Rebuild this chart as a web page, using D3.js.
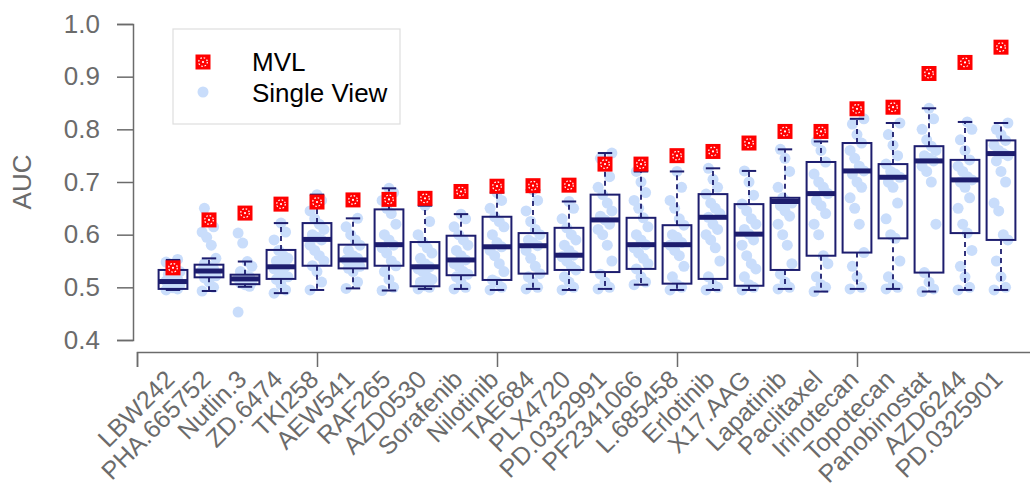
<!doctype html>
<html lang="en">
<head>
    <meta charset="UTF-8">
    <title>AUC by drug</title>
    <style>
        body { margin: 0; background: #fff; }
        text { font-family: "Liberation Sans", Arial, sans-serif; }
    </style>
</head>
<body>
    <svg width="1030" height="489"></svg>
    <script src="https://cdn.jsdelivr.net/npm/d3@7/dist/d3.min.js"></script>
    <script>
        const drugs = ["LBW242", "PHA.665752", "Nutlin.3", "ZD.6474", "TKI258", "AEW541", "RAF265", "AZD0530",
            "Sorafenib", "Nilotinib", "TAE684", "PLX4720", "PD.0332991", "PF2341066", "L.685458", "Erlotinib",
            "X17.AAG", "Lapatinib", "Paclitaxel", "Irinotecan", "Topotecan", "Panobinostat", "AZD6244", "PD.0325901"];

        const mvl = [0.537, 0.628, 0.641, 0.658, 0.662, 0.666, 0.667, 0.669, 0.682, 0.692, 0.693, 0.694,
            0.734, 0.734, 0.750, 0.758, 0.774, 0.796, 0.796, 0.839, 0.842, 0.906, 0.927, 0.956];

        // box stats: whisker low, lower quartile, median, upper quartile, whisker high
        const whiskerLo = [0.495, 0.493, 0.501, 0.489, 0.495, 0.498, 0.494, 0.497, 0.497, 0.495, 0.497, 0.495,
            0.497, 0.505, 0.495, 0.495, 0.495, 0.497, 0.492, 0.497, 0.497, 0.492, 0.495, 0.495];
        const q1 = [0.497, 0.519, 0.506, 0.516, 0.541, 0.536, 0.541, 0.502, 0.523, 0.514, 0.526, 0.533,
            0.529, 0.535, 0.507, 0.516, 0.503, 0.533, 0.560, 0.566, 0.593, 0.528, 0.603, 0.590];
        const median = [0.511, 0.531, 0.516, 0.539, 0.591, 0.552, 0.581, 0.539, 0.552, 0.577, 0.579, 0.561,
            0.628, 0.581, 0.581, 0.633, 0.601, 0.663, 0.678, 0.721, 0.709, 0.740, 0.704, 0.754];
        const q3 = [0.533, 0.543, 0.524, 0.571, 0.622, 0.581, 0.648, 0.586, 0.598, 0.634, 0.603, 0.613,
            0.676, 0.632, 0.618, 0.677, 0.658, 0.670, 0.738, 0.774, 0.734, 0.768, 0.742, 0.779];
        const whiskerHi = [0.552, 0.555, 0.549, 0.622, 0.676, 0.631, 0.688, 0.655, 0.639, 0.680, 0.685, 0.663,
            0.755, 0.720, 0.720, 0.726, 0.721, 0.762, 0.777, 0.820, 0.812, 0.840, 0.814, 0.812];

        // single view AUCs per drug
        const singleView = [
            [0.495, 0.497, 0.499, 0.502, 0.505, 0.508, 0.51, 0.512, 0.515, 0.52, 0.525, 0.53, 0.535, 0.54, 0.548, 0.553],
            [0.493, 0.5, 0.51, 0.518, 0.522, 0.527, 0.53, 0.532, 0.535, 0.54, 0.545, 0.555, 0.58, 0.595, 0.605, 0.615, 0.63, 0.65],
            [0.453, 0.502, 0.505, 0.508, 0.51, 0.513, 0.515, 0.517, 0.52, 0.523, 0.53, 0.54, 0.549, 0.584, 0.603],
            [0.489, 0.495, 0.505, 0.515, 0.52, 0.525, 0.53, 0.535, 0.54, 0.545, 0.55, 0.555, 0.56, 0.57, 0.59, 0.605, 0.622],
            [0.495, 0.51, 0.53, 0.541, 0.55, 0.56, 0.57, 0.58, 0.59, 0.595, 0.6, 0.61, 0.62, 0.63, 0.645, 0.665, 0.676],
            [0.498, 0.51, 0.53, 0.536, 0.54, 0.545, 0.55, 0.552, 0.555, 0.56, 0.57, 0.58, 0.59, 0.6, 0.615, 0.631],
            [0.494, 0.5, 0.515, 0.53, 0.541, 0.55, 0.565, 0.575, 0.58, 0.59, 0.6, 0.62, 0.64, 0.65, 0.665, 0.68, 0.688],
            [0.497, 0.5, 0.503, 0.51, 0.515, 0.52, 0.53, 0.535, 0.539, 0.545, 0.555, 0.565, 0.575, 0.586, 0.6, 0.625, 0.655],
            [0.497, 0.5, 0.51, 0.52, 0.525, 0.53, 0.54, 0.545, 0.552, 0.56, 0.57, 0.58, 0.59, 0.6, 0.615, 0.63, 0.639],
            [0.495, 0.5, 0.51, 0.514, 0.53, 0.545, 0.56, 0.57, 0.577, 0.585, 0.6, 0.615, 0.625, 0.634, 0.65, 0.665, 0.68],
            [0.497, 0.5, 0.51, 0.52, 0.526, 0.54, 0.555, 0.57, 0.579, 0.585, 0.59, 0.6, 0.61, 0.625, 0.645, 0.665, 0.685],
            [0.495, 0.5, 0.51, 0.52, 0.533, 0.54, 0.55, 0.558, 0.561, 0.57, 0.58, 0.59, 0.6, 0.613, 0.63, 0.65, 0.663],
            [0.497, 0.5, 0.51, 0.525, 0.55, 0.58, 0.6, 0.61, 0.62, 0.628, 0.635, 0.645, 0.66, 0.676, 0.69, 0.71, 0.73, 0.745, 0.755],
            [0.505, 0.51, 0.52, 0.535, 0.545, 0.555, 0.565, 0.575, 0.581, 0.59, 0.6, 0.615, 0.632, 0.65, 0.665, 0.68, 0.7, 0.72],
            [0.495, 0.5, 0.505, 0.52, 0.54, 0.56, 0.57, 0.58, 0.585, 0.595, 0.6, 0.618, 0.63, 0.65, 0.665, 0.69, 0.72],
            [0.495, 0.5, 0.505, 0.52, 0.55, 0.575, 0.59, 0.6, 0.61, 0.62, 0.633, 0.64, 0.65, 0.66, 0.677, 0.69, 0.705, 0.726],
            [0.495, 0.5, 0.505, 0.52, 0.535, 0.545, 0.56, 0.58, 0.59, 0.601, 0.61, 0.62, 0.63, 0.645, 0.658, 0.675, 0.7, 0.721],
            [0.497, 0.5, 0.51, 0.525, 0.545, 0.58, 0.6, 0.62, 0.635, 0.645, 0.655, 0.66, 0.663, 0.67, 0.69, 0.72, 0.745, 0.762],
            [0.492, 0.5, 0.505, 0.52, 0.545, 0.56, 0.6, 0.62, 0.64, 0.655, 0.665, 0.678, 0.69, 0.7, 0.715, 0.738, 0.76, 0.777],
            [0.497, 0.5, 0.52, 0.54, 0.566, 0.62, 0.65, 0.67, 0.69, 0.7, 0.715, 0.721, 0.73, 0.745, 0.76, 0.774, 0.79, 0.81, 0.82],
            [0.497, 0.5, 0.505, 0.52, 0.55, 0.593, 0.6, 0.63, 0.66, 0.69, 0.7, 0.709, 0.715, 0.72, 0.734, 0.75, 0.77, 0.79, 0.812],
            [0.492, 0.497, 0.51, 0.528, 0.62, 0.7, 0.72, 0.73, 0.74, 0.745, 0.75, 0.76, 0.768, 0.78, 0.8, 0.82, 0.84],
            [0.495, 0.5, 0.52, 0.54, 0.57, 0.603, 0.62, 0.65, 0.67, 0.69, 0.7, 0.704, 0.71, 0.72, 0.73, 0.742, 0.76, 0.78, 0.8, 0.814],
            [0.495, 0.5, 0.52, 0.55, 0.59, 0.6, 0.645, 0.66, 0.7, 0.72, 0.74, 0.75, 0.754, 0.76, 0.77, 0.779, 0.79, 0.8, 0.812]
        ];

        const yTicks = [0.4, 0.5, 0.6, 0.7, 0.8, 0.9, 1.0];
        const xTicks = [0, 5, 10, 15, 20, 25];

        const svg = d3.select("svg");
        const axisColor = "#6b6b6b", boxColor = "#1d1d6e";

        const x = d3.scaleLinear().domain([0, 25]).range([137, 1037]);
        const y = d3.scaleLinear().domain([0.4, 1.0]).range([340, 24]);
        const step = x(1) - x(0);
        const boxW = step * 0.8, capW = boxW * 0.5;

        // y axis
        const yAxis = svg.append("g")
            .attr("transform", "translate(133,0)")
            .call(d3.axisLeft(y).tickValues(yTicks).tickFormat(d3.format(".1f")).tickSize(16).tickPadding(17));
        yAxis.select(".domain").attr("stroke", axisColor).attr("stroke-width", 1.5);
        yAxis.selectAll(".tick line").attr("stroke", axisColor).attr("stroke-width", 1.5);
        yAxis.selectAll(".tick text").attr("fill", axisColor).style("font-size", "26px")
            .style("font-family", "Liberation Sans, Arial, sans-serif");

        // x axis (R style, continuous positions)
        const xAxis = svg.append("g")
            .attr("transform", "translate(0,352)")
            .call(d3.axisBottom(x).tickValues(xTicks).tickSize(15).tickFormat(""));
        xAxis.select(".domain").attr("stroke", axisColor).attr("stroke-width", 1.5);
        xAxis.selectAll(".tick line").attr("stroke", axisColor).attr("stroke-width", 1.5);

        svg.append("g").selectAll("text")
            .data(drugs)
            .enter().append("text")
            .attr("transform", (d, i) => "translate(" + (x(i + 1) + 3) + ",381) rotate(-45)")
            .attr("text-anchor", "end")
            .attr("fill", axisColor)
            .style("font-size", "25px")
            .text(d => d);

        svg.append("text")
            .attr("transform", "translate(31,182) rotate(-90)")
            .attr("text-anchor", "middle")
            .attr("fill", axisColor)
            .style("font-size", "26px")
            .text("AUC");

        // single view points
        const pts = [];
        singleView.forEach((vals, i) => vals.forEach((v, j) => pts.push({i: i, v: v, j: j})));
        svg.append("g").selectAll("circle")
            .data(pts)
            .enter().append("circle")
            .attr("cx", d => x(d.i + 1) + ((d.j * 5) % 7 - 3) * 2.3)
            .attr("cy", d => y(d.v))
            .attr("r", 5.5)
            .attr("fill", "#c9ddfb");

        // boxes
        const boxes = svg.append("g").selectAll("g")
            .data(drugs)
            .enter().append("g")
            .attr("transform", (d, i) => "translate(" + x(i + 1) + ",0)");

        boxes.append("line")
            .attr("y1", (d, i) => y(q3[i])).attr("y2", (d, i) => y(whiskerHi[i]))
            .attr("stroke", boxColor).attr("stroke-width", 1.8).attr("stroke-dasharray", "5,4");
        boxes.append("line")
            .attr("y1", (d, i) => y(q1[i])).attr("y2", (d, i) => y(whiskerLo[i]))
            .attr("stroke", boxColor).attr("stroke-width", 1.8).attr("stroke-dasharray", "5,4");
        boxes.append("line")
            .attr("x1", -capW / 2).attr("x2", capW / 2)
            .attr("y1", (d, i) => y(whiskerHi[i])).attr("y2", (d, i) => y(whiskerHi[i]))
            .attr("stroke", boxColor).attr("stroke-width", 2);
        boxes.append("line")
            .attr("x1", -capW / 2).attr("x2", capW / 2)
            .attr("y1", (d, i) => y(whiskerLo[i])).attr("y2", (d, i) => y(whiskerLo[i]))
            .attr("stroke", boxColor).attr("stroke-width", 2);
        boxes.append("rect")
            .attr("x", -boxW / 2).attr("width", boxW)
            .attr("y", (d, i) => y(q3[i]))
            .attr("height", (d, i) => y(q1[i]) - y(q3[i]))
            .attr("fill", "none").attr("stroke", boxColor).attr("stroke-width", 2);
        boxes.append("line")
            .attr("x1", -boxW / 2).attr("x2", boxW / 2)
            .attr("y1", (d, i) => y(median[i])).attr("y2", (d, i) => y(median[i]))
            .attr("stroke", boxColor).attr("stroke-width", 5);

        // MVL marker: red square with white dotted ring
        function mvlMarker(sel) {
            sel.append("rect").attr("x", -7.5).attr("y", -7.5).attr("width", 15).attr("height", 15).attr("fill", "#ff0000");
            sel.append("circle").attr("r", 4.3).attr("fill", "none").attr("stroke", "#fff")
                .attr("stroke-width", 1.2).attr("stroke-dasharray", "1.6,1.8");
            sel.append("circle").attr("r", 1.1).attr("fill", "#fff");
        }

        svg.append("g").selectAll("g")
            .data(mvl)
            .enter().append("g")
            .attr("transform", (d, i) => "translate(" + x(i + 1) + "," + y(d) + ")")
            .call(mvlMarker);

        // legend
        const legend = svg.append("g");
        legend.append("rect")
            .attr("x", 173).attr("y", 29).attr("width", 227).attr("height", 95)
            .attr("fill", "#fff").attr("stroke", "#dedede").attr("stroke-width", 1.2);
        legend.append("g").attr("transform", "translate(203,62)").call(mvlMarker);
        legend.append("circle").attr("cx", 203).attr("cy", 92).attr("r", 5.5).attr("fill", "#c9ddfb");
        legend.append("text").attr("x", 252).attr("y", 71).style("font-size", "26px").attr("fill", "#000").text("MVL");
        legend.append("text").attr("x", 252).attr("y", 102).style("font-size", "26px").attr("fill", "#000").text("Single View");
    </script>
</body>
</html>
